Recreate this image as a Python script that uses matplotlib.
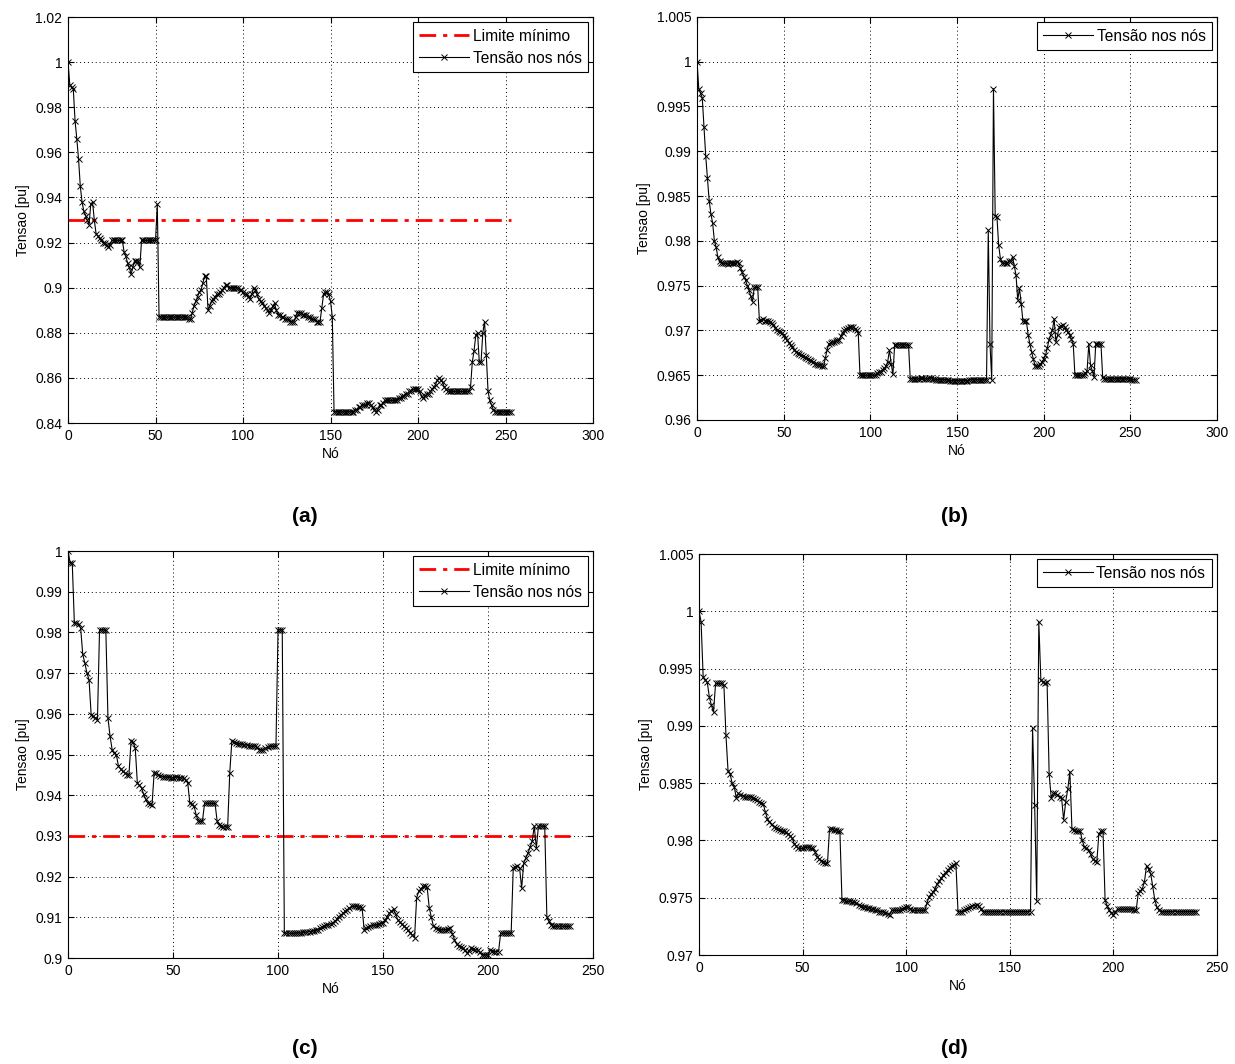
import numpy as np
import matplotlib
matplotlib.use("Agg")
import matplotlib.pyplot as plt
from matplotlib.ticker import FuncFormatter

plt.rcParams['font.family'] = ['Liberation Sans', 'DejaVu Sans']

# ---- Node voltages [pu] -------------------------------------------------
tensao_a = [
    1.000, 0.990, 0.989, 0.988, 0.974, 0.966, 0.957, 0.945, 0.938, 0.934,
    0.932, 0.930, 0.928, 0.937, 0.938, 0.930, 0.924, 0.923, 0.922, 0.921,
    0.920, 0.920, 0.919, 0.918, 0.919, 0.921, 0.921, 0.921, 0.921, 0.921,
    0.921, 0.921, 0.916, 0.914, 0.911, 0.909, 0.906, 0.909, 0.912, 0.912,
    0.912, 0.909, 0.921, 0.921, 0.921, 0.921, 0.921, 0.921, 0.921, 0.921,
    0.921, 0.937, 0.887, 0.887, 0.887, 0.887, 0.887, 0.887, 0.887, 0.887,
    0.887, 0.887, 0.887, 0.887, 0.887, 0.887, 0.887, 0.887, 0.887, 0.886,
    0.886, 0.889, 0.892, 0.894, 0.896, 0.898, 0.899, 0.902, 0.905, 0.905,
    0.890, 0.892, 0.894, 0.895, 0.896, 0.897, 0.897, 0.898, 0.899, 0.900,
    0.901, 0.901, 0.900, 0.900, 0.900, 0.900, 0.900, 0.900, 0.899, 0.899,
    0.898, 0.897, 0.897, 0.896, 0.895, 0.897, 0.900, 0.899, 0.897, 0.895,
    0.894, 0.893, 0.892, 0.891, 0.890, 0.889, 0.890, 0.892, 0.893, 0.890,
    0.888, 0.888, 0.887, 0.887, 0.886, 0.886, 0.886, 0.885, 0.885, 0.885,
    0.887, 0.889, 0.889, 0.889, 0.888, 0.888, 0.888, 0.887, 0.887, 0.886,
    0.886, 0.886, 0.885, 0.885, 0.885, 0.891, 0.897, 0.898, 0.898, 0.897,
    0.894, 0.887, 0.845, 0.845, 0.845, 0.845, 0.845, 0.845, 0.845, 0.845,
    0.845, 0.845, 0.845, 0.845, 0.846, 0.846, 0.847, 0.847, 0.848, 0.848,
    0.848, 0.849, 0.849, 0.848, 0.847, 0.846, 0.845, 0.846, 0.848, 0.848,
    0.849, 0.850, 0.850, 0.850, 0.850, 0.850, 0.850, 0.850, 0.850, 0.851,
    0.851, 0.852, 0.852, 0.853, 0.853, 0.854, 0.854, 0.855, 0.855, 0.855,
    0.855, 0.854, 0.852, 0.851, 0.852, 0.853, 0.853, 0.854, 0.855, 0.856,
    0.857, 0.859, 0.860, 0.859, 0.858, 0.856, 0.855, 0.854, 0.854, 0.854,
    0.854, 0.854, 0.854, 0.854, 0.854, 0.854, 0.854, 0.854, 0.854, 0.854,
    0.856, 0.867, 0.872, 0.879, 0.880, 0.867, 0.867, 0.880, 0.885, 0.870,
    0.854, 0.850, 0.848, 0.846, 0.845, 0.845, 0.845, 0.845, 0.845, 0.845,
    0.845, 0.845, 0.845, 0.845,
]

tensao_b = [
    1.0000, 0.9970, 0.9965, 0.9960, 0.9927, 0.9895, 0.9870, 0.9845, 0.9830, 0.9820,
    0.9800, 0.9793, 0.9782, 0.9778, 0.9775, 0.9775, 0.9775, 0.9775, 0.9774, 0.9775,
    0.9775, 0.9775, 0.9775, 0.9776, 0.9775, 0.9770, 0.9765, 0.9760, 0.9756, 0.9750,
    0.9745, 0.9738, 0.9732, 0.9748, 0.9748, 0.9748, 0.9710, 0.9712, 0.9713, 0.9711,
    0.9710, 0.9710, 0.9709, 0.9708, 0.9706, 0.9703, 0.9700, 0.9699, 0.9698, 0.9697,
    0.9695, 0.9692, 0.9689, 0.9686, 0.9684, 0.9681, 0.9678, 0.9676, 0.9675, 0.9674,
    0.9672, 0.9671, 0.9670, 0.9669, 0.9668, 0.9667, 0.9666, 0.9665, 0.9663, 0.9662,
    0.9661, 0.9661, 0.9660, 0.9660, 0.9669, 0.9678, 0.9685, 0.9686, 0.9687, 0.9687,
    0.9688, 0.9689, 0.9689, 0.9694, 0.9697, 0.9700, 0.9702, 0.9703, 0.9704, 0.9704,
    0.9704, 0.9702, 0.9700, 0.9697, 0.9650, 0.9650, 0.9650, 0.9650, 0.9650, 0.9650,
    0.9650, 0.9650, 0.9650, 0.9650, 0.9652, 0.9653, 0.9654, 0.9656, 0.9658, 0.9660,
    0.9665, 0.9678, 0.9663, 0.9651, 0.9684, 0.9684, 0.9684, 0.9684, 0.9684, 0.9684,
    0.9684, 0.9684, 0.9684, 0.9646, 0.9646, 0.9646, 0.9646, 0.9646, 0.9646, 0.9647,
    0.9647, 0.9646, 0.9646, 0.9646, 0.9647, 0.9647, 0.9646, 0.9646, 0.9645, 0.9645,
    0.9645, 0.9645, 0.9645, 0.9645, 0.9645, 0.9645, 0.9644, 0.9644, 0.9644, 0.9644,
    0.9644, 0.9644, 0.9644, 0.9644, 0.9644, 0.9644, 0.9644, 0.9645, 0.9645, 0.9645,
    0.9645, 0.9645, 0.9645, 0.9645, 0.9645, 0.9645, 0.9645, 0.9645, 0.9812, 0.9685,
    0.9645, 0.9970, 0.9828, 0.9827, 0.9795, 0.9780, 0.9775, 0.9775, 0.9775, 0.9775,
    0.9777, 0.9778, 0.9782, 0.9772, 0.9762, 0.9734, 0.9747, 0.9730, 0.9710, 0.9710,
    0.9710, 0.9695, 0.9685, 0.9676, 0.9668, 0.9660, 0.9660, 0.9660, 0.9662, 0.9665,
    0.9668, 0.9672, 0.9680, 0.9689, 0.9695, 0.9700, 0.9713, 0.9687, 0.9695, 0.9704,
    0.9705, 0.9706, 0.9704, 0.9700, 0.9698, 0.9695, 0.9690, 0.9685, 0.9650, 0.9650,
    0.9650, 0.9650, 0.9650, 0.9650, 0.9652, 0.9655, 0.9685, 0.9661, 0.9655, 0.9648,
    0.9685, 0.9685, 0.9685, 0.9685, 0.9648, 0.9646, 0.9646, 0.9646, 0.9646, 0.9646,
    0.9646, 0.9646, 0.9646, 0.9646, 0.9646, 0.9646, 0.9646, 0.9646, 0.9646, 0.9646,
    0.9646, 0.9645, 0.9645, 0.9645,
]

tensao_c = [
    1.0000, 0.9971, 0.9971, 0.9824, 0.9822, 0.9820, 0.9811, 0.9746, 0.9725, 0.9700,
    0.9684, 0.9598, 0.9594, 0.9590, 0.9586, 0.9807, 0.9807, 0.9807, 0.9805, 0.9590,
    0.9545, 0.9512, 0.9505, 0.9500, 0.9471, 0.9465, 0.9459, 0.9455, 0.9450, 0.9450,
    0.9533, 0.9530, 0.9516, 0.9430, 0.9424, 0.9418, 0.9402, 0.9390, 0.9380, 0.9378,
    0.9377, 0.9455, 0.9454, 0.9450, 0.9448, 0.9446, 0.9445, 0.9445, 0.9444, 0.9443,
    0.9443, 0.9444, 0.9445, 0.9443, 0.9443, 0.9442, 0.9438, 0.9430, 0.9380, 0.9378,
    0.9373, 0.9352, 0.9336, 0.9336, 0.9336, 0.9380, 0.9380, 0.9380, 0.9380, 0.9380,
    0.9380, 0.9336, 0.9328, 0.9325, 0.9322, 0.9322, 0.9322, 0.9455, 0.9533, 0.9530,
    0.9528, 0.9527, 0.9526, 0.9525, 0.9524, 0.9523, 0.9522, 0.9521, 0.9520, 0.9522,
    0.9518, 0.9512, 0.9512, 0.9510, 0.9515, 0.9518, 0.9520, 0.9520, 0.9520, 0.9520,
    0.9807, 0.9807, 0.9807, 0.9061, 0.9061, 0.9061, 0.9061, 0.9061, 0.9061, 0.9062,
    0.9062, 0.9062, 0.9063, 0.9063, 0.9064, 0.9065, 0.9066, 0.9067, 0.9068, 0.9070,
    0.9073, 0.9076, 0.9078, 0.9080, 0.9082, 0.9084, 0.9086, 0.9090, 0.9095, 0.9102,
    0.9106, 0.9110, 0.9115, 0.9119, 0.9123, 0.9127, 0.9127, 0.9127, 0.9126, 0.9125,
    0.9124, 0.9070, 0.9073, 0.9076, 0.9078, 0.9080, 0.9081, 0.9082, 0.9084, 0.9085,
    0.9086, 0.9094, 0.9102, 0.9110, 0.9115, 0.9120, 0.9108, 0.9094, 0.9088, 0.9083,
    0.9078, 0.9074, 0.9068, 0.9062, 0.9056, 0.9050, 0.9148, 0.9164, 0.9170, 0.9176,
    0.9176, 0.9174, 0.9123, 0.9100, 0.9078, 0.9074, 0.9072, 0.9070, 0.9070, 0.9070,
    0.9070, 0.9072, 0.9074, 0.9060, 0.9045, 0.9035, 0.9029, 0.9027, 0.9025, 0.9020,
    0.9012, 0.9018, 0.9025, 0.9022, 0.9020, 0.9020, 0.9015, 0.9008, 0.9008, 0.9008,
    0.9008, 0.9020, 0.9018, 0.9016, 0.9016, 0.9016, 0.9061, 0.9061, 0.9061, 0.9061,
    0.9061, 0.9061, 0.9221, 0.9223, 0.9225, 0.9222, 0.9172, 0.9234, 0.9246, 0.9258,
    0.9272, 0.9287, 0.9324, 0.9270, 0.9324, 0.9324, 0.9324, 0.9324, 0.9102, 0.9090,
    0.9082, 0.9078, 0.9078, 0.9078, 0.9078, 0.9078, 0.9078, 0.9078, 0.9078, 0.9078,
]

tensao_d = [
    1.0000, 0.9991, 0.9943, 0.9940, 0.9938, 0.9925, 0.9918, 0.9912, 0.9937, 0.9937,
    0.9937, 0.9937, 0.9936, 0.9892, 0.9861, 0.9858, 0.9850, 0.9847, 0.9837, 0.9841,
    0.9840, 0.9839, 0.9838, 0.9838, 0.9838, 0.9838, 0.9837, 0.9836, 0.9835, 0.9834,
    0.9833, 0.9832, 0.9825, 0.9819, 0.9816, 0.9814, 0.9812, 0.9811, 0.9810, 0.9809,
    0.9808, 0.9808, 0.9807, 0.9806, 0.9804, 0.9802, 0.9797, 0.9795, 0.9793, 0.9793,
    0.9793, 0.9794, 0.9794, 0.9794, 0.9793, 0.9793, 0.9790, 0.9786, 0.9784, 0.9782,
    0.9781, 0.9780, 0.9780, 0.9810, 0.9810, 0.9809, 0.9809, 0.9808, 0.9808, 0.9748,
    0.9748, 0.9747, 0.9747, 0.9747, 0.9746, 0.9746, 0.9745, 0.9744, 0.9743, 0.9742,
    0.9742, 0.9741, 0.9741, 0.9740, 0.9740, 0.9739, 0.9739, 0.9738, 0.9738, 0.9738,
    0.9737, 0.9736, 0.9735, 0.9739, 0.9739, 0.9739, 0.9739, 0.9739, 0.9740, 0.9741,
    0.9742, 0.9742, 0.9740, 0.9739, 0.9739, 0.9739, 0.9739, 0.9739, 0.9739, 0.9739,
    0.9745, 0.9751, 0.9753, 0.9755, 0.9758, 0.9762, 0.9765, 0.9767, 0.9770, 0.9772,
    0.9774, 0.9776, 0.9778, 0.9779, 0.9780, 0.9738, 0.9738, 0.9738, 0.9739, 0.9740,
    0.9741, 0.9742, 0.9743, 0.9743, 0.9744, 0.9743, 0.9740, 0.9738, 0.9738, 0.9738,
    0.9738, 0.9738, 0.9738, 0.9738, 0.9738, 0.9738, 0.9738, 0.9738, 0.9738, 0.9738,
    0.9738, 0.9738, 0.9738, 0.9738, 0.9738, 0.9738, 0.9738, 0.9738, 0.9738, 0.9738,
    0.9738, 0.9898, 0.9831, 0.9747, 0.9991, 0.9940, 0.9938, 0.9937, 0.9938, 0.9858,
    0.9837, 0.9841, 0.9841, 0.9840, 0.9838, 0.9837, 0.9818, 0.9834, 0.9845, 0.9860,
    0.9810, 0.9809, 0.9808, 0.9808, 0.9808, 0.9800, 0.9794, 0.9793, 0.9792, 0.9788,
    0.9784, 0.9782, 0.9781, 0.9806, 0.9808, 0.9808, 0.9748, 0.9743, 0.9739, 0.9737,
    0.9735, 0.9738, 0.9740, 0.9740, 0.9740, 0.9740, 0.9740, 0.9740, 0.9740, 0.9740,
    0.9739, 0.9739, 0.9754, 0.9756, 0.9758, 0.9764, 0.9778, 0.9775, 0.9771, 0.9760,
    0.9748, 0.9742, 0.9739, 0.9738, 0.9738, 0.9738, 0.9738, 0.9738, 0.9738, 0.9738,
    0.9738, 0.9738, 0.9738, 0.9738, 0.9738, 0.9738, 0.9738, 0.9738, 0.9738, 0.9738,
    0.9738,
]

limite_minimo = 0.93

# y-axis settings per panel: (ymin, ymax, step)
y_a = (0.84, 1.02, 0.02)
y_b = (0.96, 1.005, 0.005)
y_c = (0.90, 1.00, 0.01)
y_d = (0.97, 1.005, 0.005)
x_ab = (0, 300, 50)
x_cd = (0, 250, 50)

panels = [
    # label, data, y settings, x settings, show limit, axes rect, label pos
    ('(a)', tensao_a, y_a, x_ab, True,  (0.0551, 0.6024, 0.4251, 0.3816), (0.247, 0.515)),
    ('(b)', tensao_b, y_b, x_ab, False, (0.5644, 0.6053, 0.4211, 0.3788), (0.773, 0.515)),
    ('(c)', tensao_c, y_c, x_cd, True,  (0.0551, 0.0996, 0.4251, 0.3825), (0.247, 0.015)),
    ('(d)', tensao_d, y_d, x_cd, False, (0.5660, 0.1024, 0.4194, 0.3769), (0.773, 0.015)),
]

fig = plt.figure(figsize=(12.35, 10.64), dpi=100)
fmt = FuncFormatter(lambda v, p: f'{round(v, 6):g}')

for label, data, (y0, y1, ys), (x0, x1, xs), show_lim, rect, lpos in panels:
    ax = fig.add_axes(rect)
    v = np.asarray(data)
    nos = np.arange(len(v))
    handles = []
    if show_lim:
        h_lim, = ax.plot([nos[0], nos[-1]], [limite_minimo, limite_minimo],
                         color='red', lw=2.0, linestyle=(0, (6, 2.5, 1.5, 2.5)),
                         label='Limite mínimo')
        handles.append(h_lim)
    h_v, = ax.plot(nos, v, color='black', lw=0.8, marker='x', markersize=4.5,
                   markeredgewidth=0.7, label='Tensão nos nós')
    handles.append(h_v)

    ax.set_xlim(x0, x1)
    ax.set_ylim(y0, y1)
    ax.set_xticks(np.round(np.arange(x0, x1 + xs / 2, xs), 6))
    ax.set_yticks(np.round(np.arange(y0, y1 + ys / 2, ys), 6))
    ax.yaxis.set_major_formatter(fmt)
    ax.xaxis.set_major_formatter(fmt)
    ax.grid(True, color='black', linestyle=(0, (1, 3)), linewidth=0.7)
    ax.tick_params(direction='in', length=4, width=0.8, labelsize=10,
                   top=True, right=True, pad=4)
    for s in ax.spines.values():
        s.set_linewidth(0.8)
    ax.set_xlabel('Nó', fontsize=10, labelpad=3)
    ax.set_ylabel('Tensao [pu]', fontsize=10, labelpad=4)

    leg = ax.legend(handles=handles, loc='upper right', fontsize=11.2,
                    numpoints=1, handlelength=3.2, handletextpad=0.25,
                    fancybox=False, framealpha=1, edgecolor='black',
                    borderpad=0.4, labelspacing=0.45, borderaxespad=0.35)
    leg.get_frame().set_linewidth(0.8)

    fig.text(lpos[0], lpos[1], label, ha='center', va='center',
             fontsize=15, fontweight='bold')

fig.savefig('out.png', dpi=100)
